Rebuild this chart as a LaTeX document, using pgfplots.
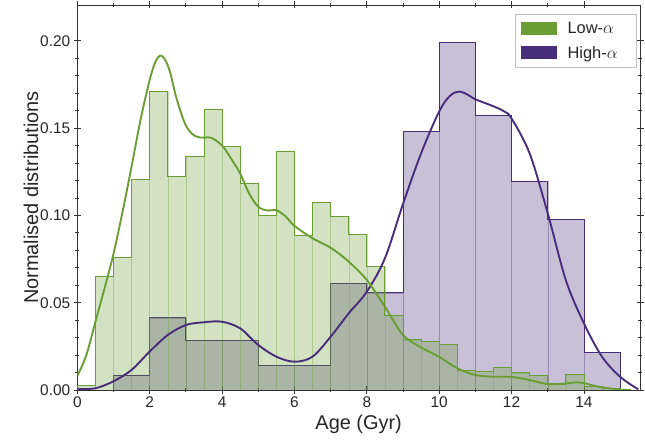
\documentclass[border=0pt]{standalone}
\usepackage{pgfplots}
\pgfplotsset{compat=1.18}
\usepackage{pgfplotstable}
\usepackage{fontspec}
\setmainfont{Liberation Sans}
\setsansfont{Liberation Sans}

\definecolor{lowg}{RGB}{106,158,52}
\definecolor{highp}{RGB}{72,45,123}

% Low-alpha histogram (left bin edge, value); last row closes the final bin
\pgfplotstableread{
x y
0 0.0025
0.5 0.0649
1 0.0758
1.5 0.1207
2 0.1709
2.5 0.1222
3 0.1340
3.5 0.1607
4 0.1394
4.5 0.1184
5 0.1002
5.5 0.1369
6 0.0884
6.5 0.1073
7 0.0993
7.5 0.0892
8 0.0710
8.5 0.0430
9 0.0288
9.5 0.0279
10 0.0263
10.5 0.0111
11 0.0105
11.5 0.0128
12 0.0099
12.5 0.0082
13 0.0034
13.5 0.0090
14 0.0019
14.5 0.0010
15 0
}\lowhist

% High-alpha histogram
\pgfplotstableread{
x y
0 0.0
1 0.0086
2 0.0414
3 0.0286
4 0.0286
5 0.0143
6 0.0143
7 0.0611
8 0.0557
9 0.1483
10 0.1991
11 0.1575
12 0.1193
13 0.0977
14 0.0214
15 0
}\highhist

% Low-alpha KDE
\pgfplotstableread{
x y
0 0.008
0.25 0.020
0.5 0.039
0.75 0.058
1.0 0.078
1.25 0.102
1.5 0.128
1.75 0.155
2.0 0.1775
2.15 0.1875
2.28 0.1915
2.4 0.1900
2.55 0.1830
2.75 0.1665
3.0 0.1515
3.25 0.1455
3.5 0.1445
3.7 0.1445
4.0 0.1400
4.25 0.1325
4.5 0.1240
4.75 0.1125
5.0 0.1050
5.25 0.1028
5.5 0.1030
5.75 0.0995
6.0 0.0940
6.5 0.0869
7.0 0.0815
7.5 0.0735
8.0 0.0630
8.5 0.0477
9.0 0.0315
9.5 0.0244
10.0 0.0190
10.5 0.0124
11.0 0.0086
11.5 0.0076
12.0 0.0075
12.5 0.0057
13.0 0.0034
13.5 0.0038
13.9 0.0043
14.4 0.0019
15.0 0.0002
15.3 0.0
}\lowkde

% High-alpha KDE
\pgfplotstableread{
x y
0 0.0005
0.5 0.001
1.0 0.005
1.5 0.0115
2.0 0.022
2.5 0.0315
3.0 0.0372
3.5 0.0388
4.0 0.0391
4.5 0.0353
5.0 0.0258
5.5 0.0191
6.0 0.0162
6.5 0.0191
7.0 0.0305
7.5 0.0439
8.0 0.0563
8.5 0.0754
9.0 0.1065
9.5 0.1355
10.0 0.1595
10.3 0.1685
10.55 0.1709
10.8 0.1690
11.0 0.1665
11.5 0.1625
11.8 0.1595
12.0 0.1555
12.5 0.1355
13.0 0.1012
13.5 0.0630
14.0 0.0382
14.5 0.0191
15.0 0.0076
15.5 0.0004
}\highkde

\newcommand{\legfont}{\fontsize{16.5}{19}\selectfont}

\begin{document}
\begin{tikzpicture}
\useasboundingbox (-77.3bp,-51bp) rectangle (567.7bp,390bp);
\begin{axis}[
  at={(0,0)}, anchor=south west,
  scale only axis, width=562.7bp, height=385bp,
  xmin=0, xmax=15.55, ymin=0, ymax=0.2205,
  xtick={0,2,4,6,8,10,12,14}, minor x tick num=1,
  ytick={0,0.05,0.1,0.15,0.2}, minor y tick num=4,
  yticklabel style={/pgf/number format/.cd, fixed, fixed zerofill, precision=2},
  /pgf/number format/assume math mode=true,
  tick align=center, major tick length=7bp, minor tick length=4bp,
  every tick/.style={black!80, line width=0.8pt},
  axis line style={black!80, line width=0.8pt},
  ticklabel style={font=\fontsize{15.5}{18}\selectfont, text=black!85},
  label style={font=\fontsize{20}{23}\selectfont, text=black!85},
  xlabel={Age (Gyr)}, ylabel={Normalised distributions},
  ylabel shift=-5bp, xlabel shift=0bp,
  legend style={at={(0.9947,0.9766)}, anchor=north east, draw=black!25,
    line width=0.8pt, text=black!85,
    inner xsep=5bp, inner ysep=6bp, row sep=7bp},
  legend cell align=left,
]
\addlegendimage{legend image code/.code={\fill[lowg] (0bp,-6bp) rectangle (35bp,6bp);}}
\addlegendentry{\legfont\mbox{}\hspace*{9bp}\mbox{Low-$\alpha$}\hspace*{12bp}\mbox{}}
\addlegendimage{legend image code/.code={\fill[highp] (0bp,-6bp) rectangle (35bp,6bp);}}
\addlegendentry{\legfont\mbox{}\hspace*{9bp}\mbox{High-$\alpha$}\hspace*{12bp}\mbox{}}

\addplot[ybar interval, fill=highp, fill opacity=0.3, draw=highp, draw opacity=0.35, forget plot] table {\highhist};
\addplot[const plot, highp, line width=0.8pt, forget plot] coordinates {
(1,0) (1,0.0086) (2,0.0414) (3,0.0286) (4,0.0286) (5,0.0143) (6,0.0143) (7,0.0611) (8,0.0557)
(9,0.1483) (10,0.1991) (11,0.1575) (12,0.1193) (13,0.0977) (14,0.0214) (15,0.0214) (15,0)};

\addplot[ybar interval, fill=lowg, fill opacity=0.3, draw=lowg, draw opacity=0.35, forget plot] table {\lowhist};
\addplot[const plot, lowg, line width=0.8pt, forget plot] coordinates {
(0,0) (0,0.0025) (0.5,0.0649) (1,0.0758) (1.5,0.1207) (2,0.1709) (2.5,0.1222) (3,0.1340) (3.5,0.1607)
(4,0.1394) (4.5,0.1184) (5,0.1002) (5.5,0.1369) (6,0.0884) (6.5,0.1073) (7,0.0993) (7.5,0.0892)
(8,0.0710) (8.5,0.0430) (9,0.0288) (9.5,0.0279) (10,0.0263) (10.5,0.0111) (11,0.0105) (11.5,0.0128)
(12,0.0099) (12.5,0.0082) (13,0.0034) (13.5,0.0090) (14,0.0019) (14.5,0.0010) (15,0.0010) (15,0)};

\addplot[smooth, tension=0.55, highp, line width=1.9pt, forget plot] table {\highkde};
\addplot[smooth, tension=0.55, lowg, line width=1.9pt, forget plot] table {\lowkde};
\end{axis}
\end{tikzpicture}
\end{document}
